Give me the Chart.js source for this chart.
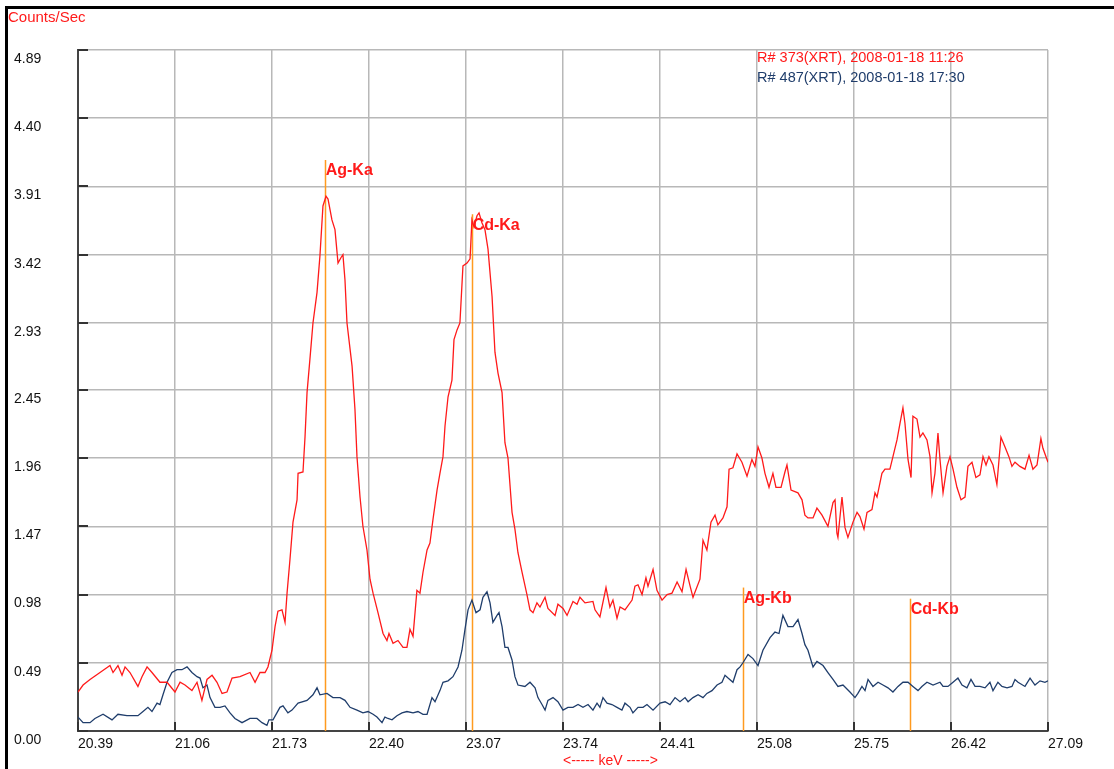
<!DOCTYPE html>
<html>
<head>
<meta charset="utf-8">
<title>XRT spectrum</title>
<script src="https://cdn.jsdelivr.net/npm/chart.js@4.4.1/dist/chart.umd.min.js"></script>
<style>
  html, body { margin: 0; padding: 0; background: #fff; }
  canvas { display: block; }
</style>
</head>
<body>
<canvas id="spectrum" width="1114" height="769"></canvas>
<script>
// tick labels as printed on the axes
const xTicks = [20.39, 21.06, 21.73, 22.40, 23.07, 23.74, 24.41, 25.08, 25.75, 26.42, 27.09];
const yTicks = [0.00, 0.49, 0.98, 1.47, 1.96, 2.45, 2.93, 3.42, 3.91, 4.40, 4.89];

const seriesNames = ['R# 373(XRT), 2008-01-18 11:26', 'R# 487(XRT), 2008-01-18 17:30'];

// [keV, counts/sec]
const run373 = [
  [20.390, 0.28], [20.425, 0.33], [20.473, 0.37], [20.542, 0.42], [20.611, 0.47], [20.632, 0.42],
  [20.666, 0.47], [20.694, 0.40], [20.715, 0.46], [20.749, 0.42], [20.804, 0.32], [20.832, 0.39],
  [20.867, 0.46], [20.901, 0.42], [20.956, 0.35], [21.005, 0.35], [21.060, 0.28], [21.095, 0.35],
  [21.129, 0.33], [21.177, 0.29], [21.212, 0.35], [21.246, 0.22], [21.281, 0.37], [21.316, 0.40],
  [21.350, 0.35], [21.385, 0.27], [21.419, 0.28], [21.454, 0.38], [21.509, 0.39], [21.578, 0.42],
  [21.613, 0.35], [21.647, 0.42], [21.682, 0.42], [21.702, 0.46], [21.730, 0.58], [21.751, 0.75],
  [21.771, 0.86], [21.799, 0.87], [21.820, 0.78], [21.834, 0.99], [21.854, 1.23], [21.875, 1.50],
  [21.903, 1.66], [21.910, 1.85], [21.944, 1.86], [21.958, 2.11], [21.972, 2.43], [21.992, 2.67],
  [22.013, 2.93], [22.041, 3.15], [22.061, 3.41], [22.082, 3.77], [22.103, 3.84], [22.117, 3.82],
  [22.144, 3.67], [22.165, 3.60], [22.186, 3.36], [22.207, 3.40], [22.220, 3.42], [22.234, 3.24],
  [22.248, 2.93], [22.283, 2.62], [22.303, 2.31], [22.317, 1.97], [22.338, 1.68], [22.358, 1.47],
  [22.386, 1.30], [22.407, 1.09], [22.428, 0.99], [22.462, 0.85], [22.497, 0.70], [22.524, 0.65],
  [22.538, 0.70], [22.566, 0.63], [22.600, 0.65], [22.635, 0.60], [22.662, 0.60], [22.683, 0.73],
  [22.704, 0.68], [22.731, 1.01], [22.752, 0.99], [22.773, 1.14], [22.801, 1.30], [22.821, 1.35],
  [22.842, 1.52], [22.870, 1.73], [22.890, 1.85], [22.911, 1.97], [22.925, 2.19], [22.946, 2.40],
  [22.973, 2.52], [22.987, 2.81], [23.008, 2.88], [23.028, 2.93], [23.049, 3.34], [23.077, 3.36],
  [23.098, 3.39], [23.111, 3.67], [23.125, 3.62], [23.146, 3.70], [23.160, 3.72], [23.180, 3.65],
  [23.201, 3.60], [23.222, 3.46], [23.250, 3.12], [23.270, 2.72], [23.291, 2.57], [23.319, 2.43],
  [23.339, 2.07], [23.360, 1.96], [23.388, 1.57], [23.408, 1.45], [23.429, 1.28], [23.457, 1.14],
  [23.491, 0.98], [23.512, 0.87], [23.533, 0.85], [23.560, 0.92], [23.581, 0.89], [23.616, 0.96],
  [23.636, 0.88], [23.685, 0.83], [23.705, 0.91], [23.740, 0.88], [23.768, 0.83], [23.809, 0.93],
  [23.837, 0.91], [23.857, 0.96], [23.892, 0.92], [23.947, 0.93], [23.961, 0.87], [23.995, 0.82],
  [24.037, 1.03], [24.064, 0.89], [24.085, 0.94], [24.113, 0.81], [24.134, 0.89], [24.168, 0.87],
  [24.217, 0.94], [24.237, 1.04], [24.258, 1.05], [24.286, 0.98], [24.313, 1.10], [24.327, 1.04],
  [24.362, 1.16], [24.389, 1.01], [24.424, 0.94], [24.459, 0.98], [24.493, 0.99], [24.528, 1.07],
  [24.562, 1.00], [24.590, 1.16], [24.618, 1.04], [24.638, 0.96], [24.686, 1.09], [24.707, 1.37],
  [24.734, 1.30], [24.762, 1.50], [24.790, 1.55], [24.810, 1.48], [24.845, 1.53], [24.873, 1.61],
  [24.887, 1.88], [24.914, 1.89], [24.942, 1.99], [24.976, 1.93], [25.011, 1.83], [25.045, 1.95],
  [25.066, 1.90], [25.087, 2.04], [25.114, 1.96], [25.135, 1.85], [25.163, 1.75], [25.190, 1.85],
  [25.211, 1.75], [25.246, 1.75], [25.273, 1.86], [25.287, 1.91], [25.315, 1.73], [25.363, 1.71],
  [25.391, 1.66], [25.411, 1.55], [25.432, 1.53], [25.467, 1.53], [25.494, 1.60], [25.529, 1.55],
  [25.570, 1.47], [25.605, 1.64], [25.619, 1.66], [25.632, 1.42], [25.639, 1.39], [25.667, 1.68],
  [25.688, 1.46], [25.708, 1.39], [25.743, 1.50], [25.771, 1.57], [25.791, 1.54], [25.819, 1.45],
  [25.840, 1.57], [25.874, 1.59], [25.895, 1.71], [25.909, 1.68], [25.943, 1.85], [25.964, 1.88],
  [25.998, 1.88], [26.019, 1.97], [26.047, 2.09], [26.068, 2.21], [26.088, 2.32], [26.102, 2.21],
  [26.123, 1.95], [26.144, 1.82], [26.157, 2.26], [26.185, 2.24], [26.206, 2.11], [26.226, 2.14],
  [26.254, 2.09], [26.275, 1.97], [26.289, 1.71], [26.309, 1.85], [26.330, 2.14], [26.344, 1.95],
  [26.365, 1.71], [26.392, 1.90], [26.413, 1.97], [26.434, 1.88], [26.461, 1.75], [26.489, 1.66],
  [26.517, 1.68], [26.537, 1.90], [26.565, 1.93], [26.592, 1.82], [26.620, 1.84], [26.641, 1.97],
  [26.662, 1.91], [26.682, 1.97], [26.710, 1.91], [26.737, 1.77], [26.765, 2.11], [26.793, 2.04],
  [26.820, 1.97], [26.841, 1.90], [26.862, 1.93], [26.896, 1.90], [26.931, 1.88], [26.959, 1.98],
  [26.986, 1.88], [27.014, 1.91], [27.041, 2.10], [27.055, 2.03], [27.083, 1.95], [27.090, 1.93]
];

const run487 = [
  [20.390, 0.10], [20.425, 0.06], [20.473, 0.06], [20.507, 0.09], [20.563, 0.12], [20.625, 0.08],
  [20.666, 0.12], [20.728, 0.11], [20.804, 0.11], [20.839, 0.14], [20.873, 0.17], [20.901, 0.14],
  [20.936, 0.20], [20.956, 0.19], [20.977, 0.26], [21.005, 0.35], [21.039, 0.42], [21.074, 0.44],
  [21.108, 0.44], [21.143, 0.46], [21.177, 0.42], [21.212, 0.39], [21.233, 0.38], [21.253, 0.31],
  [21.281, 0.33], [21.302, 0.24], [21.336, 0.17], [21.371, 0.17], [21.405, 0.18], [21.440, 0.13],
  [21.474, 0.09], [21.523, 0.06], [21.578, 0.09], [21.626, 0.09], [21.661, 0.06], [21.695, 0.04],
  [21.709, 0.08], [21.737, 0.08], [21.785, 0.17], [21.806, 0.18], [21.840, 0.13], [21.868, 0.15],
  [21.910, 0.20], [21.972, 0.22], [22.013, 0.26], [22.041, 0.31], [22.061, 0.26], [22.110, 0.27],
  [22.151, 0.24], [22.200, 0.24], [22.234, 0.22], [22.269, 0.17], [22.317, 0.15], [22.358, 0.13],
  [22.393, 0.14], [22.428, 0.12], [22.455, 0.10], [22.490, 0.06], [22.510, 0.10], [22.531, 0.09],
  [22.559, 0.08], [22.593, 0.11], [22.628, 0.13], [22.662, 0.14], [22.704, 0.13], [22.738, 0.14],
  [22.773, 0.12], [22.801, 0.12], [22.835, 0.24], [22.856, 0.21], [22.890, 0.29], [22.911, 0.35],
  [22.946, 0.36], [22.980, 0.39], [23.015, 0.46], [23.042, 0.58], [23.063, 0.73], [23.084, 0.87],
  [23.111, 0.94], [23.139, 0.85], [23.167, 0.87], [23.187, 0.96], [23.215, 1.00], [23.236, 0.92],
  [23.256, 0.78], [23.284, 0.83], [23.298, 0.85], [23.319, 0.75], [23.339, 0.60], [23.360, 0.60],
  [23.388, 0.51], [23.408, 0.39], [23.429, 0.33], [23.477, 0.32], [23.512, 0.35], [23.547, 0.31],
  [23.567, 0.24], [23.595, 0.19], [23.616, 0.15], [23.636, 0.22], [23.671, 0.24], [23.705, 0.21],
  [23.740, 0.15], [23.774, 0.17], [23.809, 0.17], [23.844, 0.19], [23.878, 0.17], [23.913, 0.19],
  [23.947, 0.15], [23.975, 0.20], [23.995, 0.17], [24.016, 0.24], [24.044, 0.20], [24.078, 0.19],
  [24.113, 0.17], [24.147, 0.15], [24.168, 0.20], [24.203, 0.17], [24.223, 0.13], [24.258, 0.17],
  [24.293, 0.17], [24.320, 0.19], [24.362, 0.15], [24.410, 0.20], [24.445, 0.21], [24.479, 0.19],
  [24.514, 0.24], [24.548, 0.21], [24.583, 0.24], [24.604, 0.21], [24.638, 0.24], [24.673, 0.26],
  [24.707, 0.24], [24.734, 0.27], [24.769, 0.29], [24.804, 0.33], [24.838, 0.35], [24.859, 0.40],
  [24.880, 0.38], [24.914, 0.35], [24.942, 0.44], [24.963, 0.46], [24.983, 0.49], [25.018, 0.55],
  [25.052, 0.52], [25.087, 0.47], [25.121, 0.58], [25.170, 0.67], [25.204, 0.71], [25.232, 0.70],
  [25.259, 0.83], [25.294, 0.75], [25.329, 0.75], [25.363, 0.80], [25.391, 0.70], [25.411, 0.62],
  [25.432, 0.58], [25.467, 0.46], [25.494, 0.50], [25.536, 0.47], [25.570, 0.42], [25.605, 0.37],
  [25.639, 0.32], [25.674, 0.33], [25.722, 0.28], [25.757, 0.24], [25.777, 0.27], [25.805, 0.32],
  [25.826, 0.29], [25.847, 0.37], [25.881, 0.32], [25.916, 0.35], [25.950, 0.33], [25.985, 0.31],
  [26.019, 0.28], [26.054, 0.32], [26.088, 0.35], [26.123, 0.35], [26.157, 0.32], [26.192, 0.29],
  [26.219, 0.32], [26.254, 0.35], [26.296, 0.33], [26.344, 0.35], [26.365, 0.32], [26.399, 0.32],
  [26.434, 0.35], [26.468, 0.38], [26.496, 0.33], [26.530, 0.31], [26.558, 0.37], [26.586, 0.32],
  [26.620, 0.32], [26.655, 0.31], [26.689, 0.35], [26.710, 0.29], [26.744, 0.35], [26.772, 0.32],
  [26.807, 0.31], [26.841, 0.32], [26.862, 0.37], [26.883, 0.35], [26.931, 0.32], [26.966, 0.38],
  [27.000, 0.33], [27.035, 0.36], [27.069, 0.35], [27.090, 0.36]
];

// element lines: name, energy (keV), height the marker reaches (counts/sec)
const lineNames = ['Ag-Ka', 'Cd-Ka', 'Ag-Kb', 'Cd-Kb'];
const lineKeV = [22.094, 23.109, 24.981, 26.135];
const lineTop = [4.10, 3.71, 1.03, 0.95];

const FONT = "'Liberation Sans', Arial, sans-serif";
const RED = '#ff1a1a';
const NAVY = '#1f3d6b';

const toPoints = rows => rows.map(r => ({ x: r[0], y: r[1] }));

// frame, element markers, inner tick marks, captions
const decor = {
  id: 'decor',
  beforeDraw(chart) {
    const ctx = chart.ctx;
    ctx.save();
    ctx.fillStyle = '#000';
    ctx.fillRect(5, 6, chart.width - 5, 3);
    ctx.fillRect(5, 6, 3, chart.height - 6);
    ctx.restore();
  },
  beforeDatasetsDraw(chart) {
    const { ctx, scales: { x, y }, chartArea } = chart;
    ctx.save();
    ctx.strokeStyle = '#ff9a1f';
    ctx.lineWidth = 1.5;
    lineKeV.forEach((e, i) => {
      const px = Math.round(x.getPixelForValue(e)) + 0.5;
      ctx.beginPath();
      ctx.moveTo(px, y.getPixelForValue(lineTop[i]));
      ctx.lineTo(px, chartArea.bottom);
      ctx.stroke();
    });
    ctx.restore();
  },
  afterDatasetsDraw(chart) {
    const { ctx, scales: { x, y }, chartArea } = chart;
    ctx.save();
    // short dark ticks pointing into the plot
    ctx.strokeStyle = '#333';
    ctx.lineWidth = 2;
    yTicks.forEach(v => {
      const py = Math.round(y.getPixelForValue(v));
      ctx.beginPath();
      ctx.moveTo(chartArea.left, py);
      ctx.lineTo(chartArea.left + 10, py);
      ctx.stroke();
    });
    xTicks.forEach(v => {
      const px = Math.round(x.getPixelForValue(v));
      ctx.beginPath();
      ctx.moveTo(px, chartArea.bottom);
      ctx.lineTo(px, chartArea.bottom - 9);
      ctx.stroke();
    });

    ctx.fillStyle = RED;
    ctx.font = 'bold 16px ' + FONT;
    ctx.textBaseline = 'top';
    ctx.textAlign = 'left';
    lineNames.forEach((n, i) => {
      ctx.fillText(n, x.getPixelForValue(lineKeV[i]) + 1, y.getPixelForValue(lineTop[i]) + 3);
    });

    ctx.textBaseline = 'middle';
    ctx.font = '14.5px ' + FONT;
    ctx.fillStyle = RED;
    ctx.fillText(seriesNames[0], 757, 58);
    ctx.fillStyle = NAVY;
    ctx.fillText(seriesNames[1], 757, 78);

    ctx.fillStyle = RED;
    ctx.font = '15px ' + FONT;
    ctx.fillText('Counts/Sec', 8, 18);
    ctx.font = '14px ' + FONT;
    ctx.fillText('<----- keV ----->', 563, 761);
    ctx.restore();
  }
};

new Chart(document.getElementById('spectrum'), {
  type: 'scatter',
  data: {
    datasets: [
      {
        label: seriesNames[0],
        data: toPoints(run373),
        showLine: true,
        borderColor: RED,
        borderWidth: 1.3,
        pointRadius: 0,
        tension: 0
      },
      {
        label: seriesNames[1],
        data: toPoints(run487),
        showLine: true,
        borderColor: NAVY,
        borderWidth: 1.3,
        pointRadius: 0,
        tension: 0
      }
    ]
  },
  options: {
    responsive: false,
    animation: false,
    layout: { padding: { left: 14, top: 50, right: 66, bottom: 0 } },
    plugins: {
      legend: { display: false },
      tooltip: { enabled: false }
    },
    scales: {
      x: {
        type: 'linear',
        min: 20.39,
        max: 27.09,
        afterBuildTicks: s => { s.ticks = xTicks.map(v => ({ value: v })); },
        afterFit: s => { s.height = 38; },
        grid: { color: '#b8b8b8', lineWidth: 1.5, drawTicks: false },
        border: { color: '#444', width: 2 },
        ticks: {
          autoSkip: false,
          maxRotation: 0,
          align: 'start',
          padding: 5,
          color: '#111',
          font: { family: FONT, size: 14 },
          callback: v => Number(v).toFixed(2)
        }
      },
      y: {
        min: 0,
        max: 4.89,
        afterBuildTicks: s => { s.ticks = yTicks.map(v => ({ value: v })); },
        afterFit: s => { s.width = 64; },
        grid: { color: '#b8b8b8', lineWidth: 1.5, drawTicks: false },
        border: { color: '#444', width: 2 },
        ticks: {
          crossAlign: 'far',
          labelOffset: 9,
          padding: 0,
          color: '#111',
          font: { family: FONT, size: 14 },
          callback: v => Number(v).toFixed(2)
        }
      }
    }
  },
  plugins: [decor]
});
</script>
</body>
</html>
